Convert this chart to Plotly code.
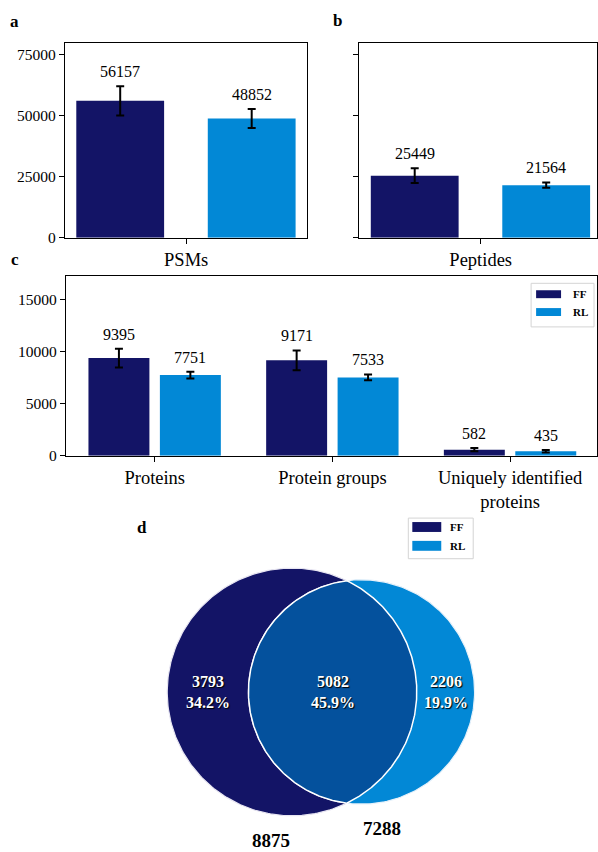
import numpy as np
import plotly.graph_objects as go

W, H = 598, 852
FONT = "Liberation Serif"

# ---------------- data ----------------
series = ["FF", "RL"]
series_colors = ["#131466", "#0288D6"]
overlap_color = "#04519D"

psm_cat = ["PSMs"]
psm_ff, psm_ff_err = [56157], [6000]
psm_rl, psm_rl_err = [48852], [3900]

pep_cat = ["Peptides"]
pep_ff, pep_ff_err = [25449], [3000]
pep_rl, pep_rl_err = [21564], [1100]

prot_cats = ["Proteins", "Protein groups", "Uniquely identified<br>proteins"]
prot_ff, prot_ff_err = [9395, 9171, 582], [900, 950, 150]
prot_rl, prot_rl_err = [7751, 7533, 435], [320, 280, 120]

ab_ticks = [0, 25000, 50000, 75000]
c_ticks = [0, 5000, 10000, 15000]

venn_ff_only = 3793
venn_both = 5082
venn_rl_only = 2206
venn_set_ff = 8875
venn_set_rl = 7288

# ---------------- helpers ----------------
def px(x):
    return x / W

def py(y):
    return 1 - y / H

fig = go.Figure()

axis_common = dict(showline=True, linecolor="black", linewidth=1.2, mirror=True,
                   ticks="outside", ticklen=5, tickwidth=1.2, tickcolor="black",
                   showgrid=False, zeroline=False,
                   tickfont=dict(family=FONT, size=15.5, color="black"))
cat_font = dict(family=FONT, size=18.5, color="black")

annotations = []
shapes = []

def add_bars(cats, vals_ff, err_ff, vals_rl, err_rl, xa, ya, width, offsets):
    idx = np.arange(len(cats))
    for name, col, vals, errs, off in [("FF", series_colors[0], vals_ff, err_ff, offsets[0]),
                                       ("RL", series_colors[1], vals_rl, err_rl, offsets[1])]:
        fig.add_trace(go.Bar(
            x=idx, y=vals, width=width, offset=off, name=name,
            marker=dict(color=col, line=dict(width=0)),
            error_y=dict(type="data", array=errs, color="black", thickness=2, width=4),
            xaxis=xa, yaxis=ya, showlegend=False))
        for i, v, e in zip(idx, vals, errs):
            annotations.append(dict(
                x=i + off + width / 2, y=v + e, xref=xa, yref=ya,
                text=str(v), showarrow=False, yanchor="bottom", yshift=4,
                font=dict(family=FONT, size=16, color="black")))

# panel a / b
w_ab = 0.362
add_bars(psm_cat, psm_ff, psm_ff_err, psm_rl, psm_rl_err, "x", "y", w_ab, (-0.453, 0.089))
add_bars(pep_cat, pep_ff, pep_ff_err, pep_rl, pep_rl_err, "x2", "y2", w_ab, (-0.453, 0.089))
# panel c
w_c = 0.343
add_bars(prot_cats, prot_ff, prot_ff_err, prot_rl, prot_rl_err, "x3", "y3", w_c, (-0.373, 0.029))

# ---------------- venn ----------------
rA = np.sqrt(venn_set_ff / np.pi)
rB = np.sqrt(venn_set_rl / np.pi)

def lens_area(d, r1, r2):
    if d >= r1 + r2:
        return 0.0
    if d <= abs(r1 - r2):
        return np.pi * min(r1, r2) ** 2
    a1 = r1 ** 2 * np.arccos((d * d + r1 * r1 - r2 * r2) / (2 * d * r1))
    a2 = r2 ** 2 * np.arccos((d * d + r2 * r2 - r1 * r1) / (2 * d * r2))
    k = 0.5 * np.sqrt((-d + r1 + r2) * (d + r1 - r2) * (d - r1 + r2) * (d + r1 + r2))
    return a1 + a2 - k

lo, hi = abs(rA - rB), rA + rB
for _ in range(100):
    mid = (lo + hi) / 2
    if lens_area(mid, rA, rB) > venn_both:
        lo = mid
    else:
        hi = mid
d = (lo + hi) / 2

cA = np.array([0.0, 0.0])
cB = np.array([d, 0.0])
ax_ = (d * d + rA * rA - rB * rB) / (2 * d)
thA = np.arccos(ax_ / rA)
thB = np.arccos((d - ax_) / rB)

def circle_pts(c, r, t0=0, t1=2 * np.pi, n=300):
    t = np.linspace(t0, t1, n)
    return c[0] + r * np.cos(t), c[1] + r * np.sin(t)

xa_, ya_ = circle_pts(cA, rA)
fig.add_trace(go.Scatter(x=xa_, y=ya_, fill="toself", fillcolor=series_colors[0], mode="lines",
                         line=dict(color="#e8e6f2", width=1.2), xaxis="x4", yaxis="y4",
                         showlegend=False, hoverinfo="skip"))
xb_, yb_ = circle_pts(cB, rB)
fig.add_trace(go.Scatter(x=xb_, y=yb_, fill="toself", fillcolor=series_colors[1], mode="lines",
                         line=dict(color="#e6f1fa", width=1.2), xaxis="x4", yaxis="y4",
                         showlegend=False, hoverinfo="skip"))
lbx, lby = circle_pts(cB, rB, np.pi - thB, np.pi + thB)
lax, lay = circle_pts(cA, rA, -thA, thA)
fig.add_trace(go.Scatter(x=np.concatenate([lbx, lax]), y=np.concatenate([lby, lay]),
                         fill="toself", fillcolor=overlap_color, mode="lines",
                         line=dict(color="white", width=1.5), xaxis="x4", yaxis="y4",
                         showlegend=False, hoverinfo="skip"))

# pixel mapping of venn axis
scale = 125.0 / rA  # px per unit
cA_px = (292.5, 698.5)
vx0, vx1, vy0, vy1 = 130, 520, 560, 852
xr = [(vx0 - cA_px[0]) / scale, (vx1 - cA_px[0]) / scale]
yr = [-(vy1 - cA_px[1]) / scale, (cA_px[1] - vy0) / scale]

total = venn_ff_only + venn_both + venn_rl_only
region_x = [(-rA + (d - rB)) / 2, ((d - rB) + rA) / 2, (rA + d + rB) / 2]
region_v = [venn_ff_only, venn_both, venn_rl_only]
for xx, v in zip(region_x, region_v):
    annotations.append(dict(
        x=xx, y=0, xref="x4", yref="y4", showarrow=False,
        text=f"{v}<br>{100 * v / total:.1f}%",
        font=dict(family=FONT, size=16, color="white", weight="bold",
                  shadow="1px 1px 1px black")))
pad = np.mean([rA * 0.1, rB * 0.1])
annotations.append(dict(x=cA[0], y=-rA - pad, xref="x4", yref="y4", showarrow=False,
                        xanchor="right", yanchor="top", text=str(venn_set_ff),
                        font=dict(family=FONT, size=19, color="black", weight="bold")))
annotations.append(dict(x=cB[0], y=-rB - pad, xref="x4", yref="y4", showarrow=False,
                        xanchor="left", yanchor="top", text=str(venn_set_rl),
                        font=dict(family=FONT, size=19, color="black", weight="bold")))

# ---------------- panel letters ----------------
for letter, (lx, ly) in zip("abcd", [(15, 22), (338, 21), (15, 262), (142, 533)]):
    annotations.append(dict(x=px(lx), y=py(ly), xref="paper", yref="paper", showarrow=False,
                            text=letter, xanchor="center", yanchor="middle",
                            font=dict(family=FONT, size=17, color="black", weight="bold")))

# ---------------- manual legends ----------------
def legend_box(x0, y0, x1, y1, patch_x, rows, text_x):
    shapes.append(dict(type="rect", xref="paper", yref="paper",
                       x0=px(x0), x1=px(x1), y0=py(y1), y1=py(y0),
                       line=dict(color="#d4d4d4", width=1), fillcolor="white", layer="above"))
    for (yt, yb), name, col in zip(rows, series, series_colors):
        shapes.append(dict(type="rect", xref="paper", yref="paper",
                           x0=px(patch_x[0]), x1=px(patch_x[1]), y0=py(yb), y1=py(yt),
                           line=dict(width=0), fillcolor=col, layer="above"))
        annotations.append(dict(x=px(text_x), y=py((yt + yb) / 2), xref="paper", yref="paper",
                                showarrow=False, text=name, xanchor="center", yanchor="middle",
                                font=dict(family=FONT, size=11, color="black", weight="bold")))

legend_box(532, 286, 595, 330, (537, 562), [(293, 301), (311, 319)], 581)
legend_box(409, 523, 474, 564, (413, 442), [(527, 537), (546, 556)], 458)

# ---------------- layout ----------------
u_ab = 243.0
u_c = 178.0
ab_text = [str(t) for t in ab_ticks]
c_text = [str(t) for t in c_ticks]
fig.update_layout(
    width=W, height=H, margin=dict(l=0, r=0, t=0, b=0),
    paper_bgcolor="white", plot_bgcolor="white", barmode="overlay",
    font=dict(family=FONT, color="black"),
    xaxis=dict(domain=[px(65), px(308)], range=[-0.5, 0.5], tickvals=[0], ticktext=psm_cat,
               anchor="y", **{**axis_common, "tickfont": cat_font}),
    yaxis=dict(domain=[py(240), py(43)], range=[0, 80000], tickvals=ab_ticks, ticktext=ab_text,
               anchor="x", **axis_common),
    xaxis2=dict(domain=[px(360), 1], range=[-0.5, -0.5 + (598 - 360) / u_ab], tickvals=[0],
                ticktext=pep_cat, anchor="y2", **{**axis_common, "tickfont": cat_font}),
    yaxis2=dict(domain=[py(240), py(43)], range=[0, 80000], tickvals=ab_ticks, anchor="x2",
                showticklabels=False, **axis_common),
    xaxis3=dict(domain=[px(66), 1], range=[-0.5, -0.5 + (598 - 66) / u_c],
                tickvals=list(range(len(prot_cats))), ticktext=prot_cats, anchor="y3",
                **{**axis_common, "tickfont": cat_font}),
    yaxis3=dict(domain=[py(460), py(279)], range=[0, 17250], tickvals=c_ticks, ticktext=c_text,
                anchor="x3", **axis_common),
    xaxis4=dict(domain=[px(vx0), px(vx1)], range=xr, visible=False, anchor="y4", fixedrange=True),
    yaxis4=dict(domain=[py(vy1), py(vy0)], range=yr, visible=False, anchor="x4", fixedrange=True),
    annotations=annotations,
    shapes=shapes,
)

fig.write_html("out.html", config={"displayModeBar": False},
               post_script="document.body.style.margin='0';")
